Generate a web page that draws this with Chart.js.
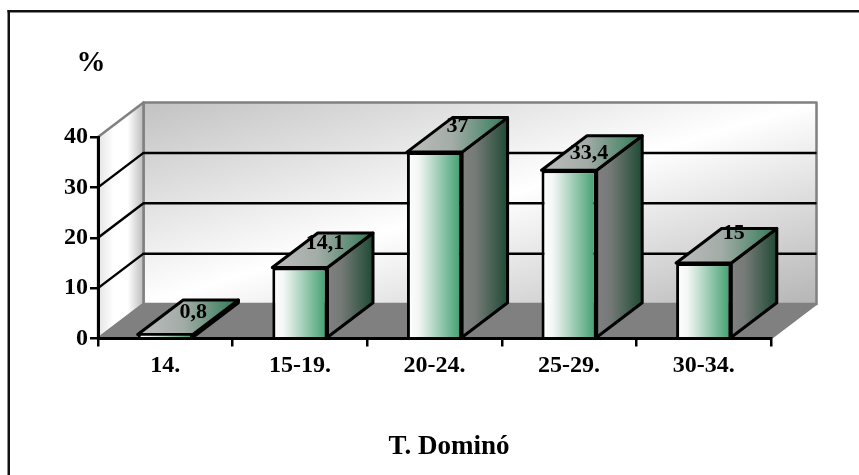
<!DOCTYPE html>
<html lang="en">
<head>
    <meta charset="UTF-8">
    <title>T. Dominó</title>
    <script src="https://cdn.jsdelivr.net/npm/chart.js"></script>
    <style>
        html, body { margin: 0; padding: 0; background: #fff; }
        canvas { display: block; }
    </style>
</head>
<body>
    <canvas id="chart" width="859" height="475"></canvas>

    <script>
        // Chart data
        const categories = ['14.', '15-19.', '20-24.', '25-29.', '30-34.'];
        const percentages = [0.8, 14.1, 37, 33.4, 15];
        const yTicks = [0, 10, 20, 30, 40];
        const chartTitle = 'T. Dominó';
        const unitLabel = '%';

        // Depth of the fake 3D box, in pixels
        const DEPTH_X = 45.5;
        const DEPTH_Y = 34.5;
        const FONT = '"Liberation Serif", "Times New Roman", serif';

        // Hand placed value labels, offset from the top centre of each bar
        const labelOffsets = [[28, -22], [25, -24], [23, -26], [20, -17], [30, -30]];

        function polygon(ctx, points, fill, stroke, width) {
            ctx.beginPath();
            points.forEach((p, i) => i ? ctx.lineTo(p[0], p[1]) : ctx.moveTo(p[0], p[1]));
            ctx.closePath();
            ctx.fillStyle = fill;
            ctx.fill();
            if (stroke) {
                ctx.strokeStyle = stroke;
                ctx.lineWidth = width;
                ctx.lineJoin = 'round';
                ctx.stroke();
            }
        }

        function hGradient(ctx, x0, x1, stops) {
            const g = ctx.createLinearGradient(x0, 0, x1, 0);
            stops.forEach(s => g.addColorStop(s[0], s[1]));
            return g;
        }

        // Walls, floor and gridlines behind the bars
        const boxPlugin = {
            id: 'box',
            beforeDraw(chart) {
                const { ctx, chartArea: a, scales: { y } } = chart;
                const backLeft = a.left + DEPTH_X;
                const backRight = a.right + DEPTH_X;
                const backTop = a.top - DEPTH_Y;
                const backBottom = a.bottom - DEPTH_Y;
                ctx.save();

                // frame: top and left rules only
                ctx.fillStyle = '#111';
                ctx.fillRect(7.5, 10, 851.5, 2.5);
                ctx.fillRect(7.5, 10, 2.5, 465);

                const midX = (backLeft + backRight) / 2;
                const midY = (backTop + backBottom) / 2;
                const back = ctx.createLinearGradient(midX - 56, midY - 186, midX + 56, midY + 186);
                back.addColorStop(0, '#c2c2c2');
                back.addColorStop(0.5, '#ffffff');
                back.addColorStop(1, '#b5b5b5');
                polygon(ctx, [[backLeft, backTop], [backRight, backTop], [backRight, backBottom], [backLeft, backBottom]], back, '#808080', 2.5);

                polygon(ctx, [[a.left, a.top], [backLeft, backTop], [backLeft, backBottom], [a.left, a.bottom]],
                    hGradient(ctx, a.left, backLeft, [[0, '#e4e4e4'], [0.35, '#ffffff'], [0.65, '#ffffff'], [1, '#bcbcbc']]), '#808080', 2.5);

                polygon(ctx, [[a.left, a.bottom], [a.right, a.bottom], [backRight, backBottom], [backLeft, backBottom]], '#808080', '#808080', 2);

                ctx.strokeStyle = '#000';
                ctx.lineWidth = 2.5;
                yTicks.slice(1, -1).forEach(v => {
                    const py = y.getPixelForValue(v);
                    ctx.beginPath();
                    ctx.moveTo(a.left, py);
                    ctx.lineTo(backLeft, py - DEPTH_Y);
                    ctx.lineTo(backRight, py - DEPTH_Y);
                    ctx.stroke();
                });

                ctx.fillStyle = '#000';
                ctx.textAlign = 'center';
                ctx.textBaseline = 'alphabetic';
                ctx.font = 'bold 29px ' + FONT;
                ctx.fillText(unitLabel, 91, 71);
                ctx.font = 'bold 27px ' + FONT;
                ctx.fillText(chartTitle, 449, 454);
                ctx.restore();
            },
            // Side and top faces of each bar
            beforeDatasetsDraw(chart) {
                const { ctx } = chart;
                ctx.save();
                chart.getDatasetMeta(0).data.forEach(bar => {
                    const l = bar.x - bar.width / 2;
                    const r = bar.x + bar.width / 2;
                    polygon(ctx, [[r, bar.y], [r + DEPTH_X, bar.y - DEPTH_Y], [r + DEPTH_X, bar.base - DEPTH_Y], [r, bar.base]],
                        hGradient(ctx, r, r + DEPTH_X, [[0, '#808080'], [0.3, '#757a77'], [1, '#1f4a34']]), '#000', 3);
                    polygon(ctx, [[l, bar.y], [l + DEPTH_X, bar.y - DEPTH_Y], [r + DEPTH_X, bar.y - DEPTH_Y], [r, bar.y]],
                        hGradient(ctx, l, r + DEPTH_X, [[0, '#bdbdbd'], [0.45, '#a3aca7'], [1, '#2f7a55']]), '#000', 3);
                });
                ctx.restore();
            },
            // Value labels sit on the top faces
            afterDatasetsDraw(chart) {
                const { ctx } = chart;
                ctx.save();
                ctx.fillStyle = '#000';
                ctx.textAlign = 'center';
                ctx.textBaseline = 'middle';
                ctx.font = 'bold 22px ' + FONT;
                chart.getDatasetMeta(0).data.forEach((bar, i) => {
                    const text = String(percentages[i]).replace('.', ',');
                    ctx.fillText(text, bar.x + labelOffsets[i][0], bar.y + labelOffsets[i][1]);
                });
                ctx.restore();
            }
        };

        new Chart(document.getElementById('chart'), {
            type: 'bar',
            data: {
                labels: categories,
                datasets: [{
                    data: percentages,
                    borderColor: '#000',
                    // the x axis line closes the bottom edge; the shortest bar needs a thinner top edge
                    borderWidth: c => ({ top: percentages[c.dataIndex] < 1 ? 1.5 : 3, left: 3, right: 3, bottom: 0 }),
                    borderSkipped: false,
                    barPercentage: 0.41,
                    categoryPercentage: 1,
                    clip: false,
                    backgroundColor(c) {
                        const area = c.chart.chartArea;
                        if (!area) return '#fff';
                        const slot = (area.right - area.left) / categories.length;
                        const cx = area.left + slot * (c.dataIndex + 0.5);
                        const half = slot * 0.2;
                        return hGradient(c.chart.ctx, cx - half, cx + half,
                            [[0, '#ffffff'], [0.2, '#f3f7f5'], [1, '#3f9e6e']]);
                    }
                }]
            },
            options: {
                responsive: false,
                animation: false,
                layout: { padding: { left: 0, right: 88, top: 137, bottom: 0 } },
                plugins: { legend: { display: false }, tooltip: { enabled: false } },
                scales: {
                    x: {
                        afterFit(s) { s.height = 136.5; },
                        border: { color: '#000', width: 3, z: 1 },
                        grid: { drawOnChartArea: false, color: '#000', lineWidth: 2.5, tickLength: 8 },
                        ticks: { color: '#000', padding: 5, maxRotation: 0, font: { family: FONT, size: 24, weight: 'bold' } }
                    },
                    y: {
                        min: 0,
                        max: 40,
                        afterFit(s) { s.width = 98; },
                        afterBuildTicks(s) { s.ticks = yTicks.map(v => ({ value: v })); },
                        border: { color: '#000', width: 3, z: 1 },
                        grid: { drawOnChartArea: false, color: '#000', lineWidth: 2.5, tickLength: 8 },
                        ticks: { color: '#000', padding: 2, font: { family: FONT, size: 24, weight: 'bold' } }
                    }
                }
            },
            plugins: [boxPlugin]
        });
    </script>
</body>
</html>
